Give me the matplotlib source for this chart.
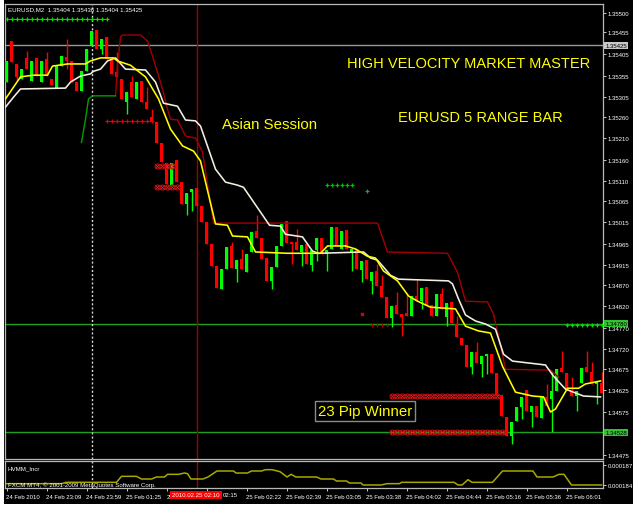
import matplotlib
matplotlib.use("Agg")
import matplotlib.pyplot as plt
from matplotlib.patches import Rectangle
import numpy as np

plt.rcParams['font.family'] = ['Liberation Sans', 'DejaVu Sans']

# ---------------- data (prices in points, 1 point = 0.00001) ----------------
opens = [135340, 135435, 135382, 135347, 135396, 135342, 135396, 135340, 135393, 135347,
         135326, 135377, 135398, 135389, 135340, 135319, 135365, 135423, 135461, 135417,
         135444, 135393, 135363, 135347, 135294, 135340, 135301, 135342, 135294, 135259,
         135247, 135199, 135152, 135101, 135159, 135108, 135057, 135085, 135094, 135052,
         135015, 134964, 134913, 134860, 134906, 134960, 134906, 134930, 134899, 134946,
         134994, 134978, 134932, 134879, 134911, 134960, 135018, 134969, 134969, 134946,
         134964, 134916, 134950, 134978, 134941, 134953, 135004, 134953, 134997, 134946,
         134953, 134904, 134927, 134879, 134902, 134867, 134841, 134793, 134823, 134802,
         134804, 134797, 134844, 134832, 134865, 134823, 134797, 134848, 134795, 134830,
         134779, 134746, 134730, 134679, 134714, 134686, 134705, 134709, 134665, 134614,
         134563, 134519, 134554, 134586, 134626, 134575, 134589, 134561, 134610, 134605,
         134623, 134677, 134665, 134623, 134612, 134642, 134679, 134667, 134640, 134642]
highs = [135389, 135435, 135382, 135370, 135412, 135389, 135396, 135389, 135410, 135347,
         135377, 135400, 135440, 135389, 135340, 135365, 135417, 135458, 135461, 135440,
         135444, 135393, 135410, 135347, 135317, 135354, 135340, 135342, 135328, 135277,
         135247, 135199, 135152, 135152, 135159, 135108, 135083, 135092, 135094, 135052,
         135015, 134964, 134913, 134906, 134957, 134969, 134927, 134953, 134941, 134992,
         135032, 134978, 134932, 134911, 134960, 135011, 135018, 134969, 134999, 134962,
         134964, 134950, 134978, 134978, 134950, 135004, 135004, 134994, 134997, 134953,
         134953, 134925, 134927, 134899, 134918, 134892, 134841, 134821, 134853, 134802,
         134851, 134844, 134881, 134862, 134865, 134823, 134848, 134862, 134828, 134830,
         134797, 134746, 134730, 134714, 134737, 134705, 134709, 134709, 134665, 134614,
         134563, 134552, 134586, 134610, 134626, 134589, 134589, 134610, 134640, 134670,
         134674, 134716, 134665, 134656, 134623, 134677, 134716, 134691, 134644, 134667]
lows = [135340, 135386, 135342, 135347, 135370, 135342, 135354, 135340, 135354, 135333,
        135326, 135377, 135370, 135340, 135319, 135319, 135365, 135423, 135417, 135405,
        135393, 135359, 135352, 135301, 135266, 135305, 135301, 135294, 135277, 135250,
        135199, 135154, 135103, 135101, 135108, 135057, 135032, 135041, 135052, 135015,
        134964, 134913, 134862, 134860, 134906, 134909, 134876, 134906, 134899, 134946,
        134978, 134930, 134879, 134860, 134911, 134960, 134967, 134918, 134950, 134913,
        134918, 134902, 134925, 134941, 134902, 134953, 134960, 134953, 134953, 134902,
        134906, 134876, 134883, 134848, 134867, 134841, 134793, 134772, 134802, 134751,
        134797, 134797, 134832, 134814, 134821, 134797, 134797, 134814, 134774, 134781,
        134749, 134730, 134679, 134663, 134688, 134656, 134663, 134665, 134614, 134565,
        134519, 134501, 134554, 134558, 134577, 134540, 134563, 134561, 134589, 134528,
        134623, 134667, 134626, 134612, 134577, 134642, 134667, 134640, 134593, 134619]
closes = [135389, 135386, 135352, 135370, 135370, 135389, 135354, 135389, 135354, 135333,
          135377, 135400, 135389, 135340, 135319, 135365, 135417, 135458, 135417, 135440,
          135393, 135359, 135352, 135301, 135317, 135305, 135340, 135294, 135277, 135250,
          135199, 135154, 135103, 135152, 135108, 135057, 135083, 135092, 135052, 135015,
          134964, 134913, 134862, 134906, 134957, 134909, 134927, 134906, 134941, 134992,
          134978, 134930, 134879, 134911, 134960, 135011, 134967, 134964, 134950, 134962,
          134918, 134950, 134978, 134941, 134950, 135004, 134960, 134994, 134953, 134953,
          134906, 134925, 134883, 134899, 134867, 134841, 134793, 134821, 134802, 134795,
          134797, 134844, 134832, 134862, 134821, 134797, 134848, 134814, 134828, 134781,
          134749, 134730, 134679, 134714, 134688, 134705, 134709, 134665, 134614, 134565,
          134519, 134552, 134586, 134610, 134577, 134589, 134563, 134610, 134589, 134623,
          134674, 134667, 134626, 134612, 134623, 134677, 134667, 134640, 134644, 134619]

# overlay lines: (bar index, price points)
yellow_line = [(-0.2, 135301), (2.8, 135352), (5.4, 135356), (8.2, 135356), (9.2, 135377),
               (12.2, 135382), (15.8, 135382), (16.8, 135389), (18.8, 135396), (21.4, 135396),
               (22.2, 135389), (24.8, 135379), (27.8, 135352), (30.4, 135301), (32.8, 135231),
               (35.2, 135192), (37.4, 135180), (38.8, 135157), (41.8, 135011), (44.2, 135008),
               (45.2, 134983), (48.2, 134981), (49.8, 134946), (56.2, 134943), (62.8, 134943),
               (64.2, 134960), (67.8, 134960), (69.8, 134953), (72.2, 134936), (73.8, 134932),
               (75.4, 134902), (78.2, 134879), (80.4, 134844), (82.2, 134832), (84.8, 134818),
               (89.8, 134814), (91.8, 134774), (94.4, 134763), (96.8, 134758), (99.2, 134681),
               (101.8, 134621), (105.2, 134612), (107.4, 134610), (108.8, 134575), (109.8, 134582),
               (112.2, 134630), (114.4, 134630), (115.8, 134640), (118.8, 134647)]
white_line = [(-0.2, 135282), (1.4, 135305), (2.8, 135324), (11.8, 135326), (12.8, 135340),
              (14.8, 135354), (16.8, 135359), (17.4, 135365), (18.8, 135370), (20.2, 135389),
              (21.8, 135396), (23.8, 135370), (27.8, 135368), (29.8, 135340), (31.4, 135291),
              (34.2, 135284), (35.8, 135252), (37.8, 135250), (38.8, 135238), (41.8, 135138),
              (43.8, 135108), (46.2, 135101), (47.4, 135096), (50.0, 135052), (52.6, 135008),
              (54.8, 135006), (55.8, 134987), (59.2, 134981), (61.2, 134948), (62.4, 134943),
              (71.4, 134946), (72.8, 134932), (74.2, 134927), (75.4, 134911), (76.8, 134892),
              (78.4, 134883), (88.4, 134879), (89.2, 134872), (90.4, 134837), (91.8, 134800),
              (93.8, 134786), (95.8, 134779), (97.8, 134767), (99.4, 134709), (101.2, 134693),
              (107.8, 134684), (109.4, 134658), (111.8, 134628), (115.4, 134612), (118.8, 134610)]
red_line = [(21.8, 135308), (22.2, 135377), (22.8, 135444), (23.2, 135449), (26.8, 135449),
            (28.2, 135435), (29.4, 135393), (31.2, 135324), (32.2, 135277), (32.8, 135254),
            (34.2, 135252), (35.8, 135215), (37.8, 135210), (39.2, 135178), (41.4, 135013),
            (74.2, 135013), (76.2, 134946), (88.2, 134943), (90.2, 134899), (91.8, 134832),
            (96.2, 134830), (97.4, 134802), (98.4, 134751), (99.8, 134674), (108.8, 134672),
            (110.4, 134656)]
green_line = [(15.0, 135200), (15.8, 135254), (16.4, 135301), (17.2, 135308), (21.8, 135308)]

# signal markers
green_plus_top = (list(range(0, 21)), 135486)
red_plus_row = (list(range(20, 30)), 135250)
red_circ_a = (list(range(30, 34)), 135145)
red_circ_b = (list(range(30, 35)), 135097)
green_plus_mid = (list(range(64, 70)), 135101)
green_plus_single = ([72], 135087)
red_dot = ([71], 134802)
red_small_row = (list(range(73, 77)), 134777)
red_circ_c = (list(range(77, 99)), 134612)
red_circ_d = (list(range(77, 100)), 134528)
green_plus_right = (list(range(112, 120)), 134777)

# horizontal level lines
grey_level = 1.35425
green_levels = [1.34780, 1.34528]

# indicator HVMM_Incr: (bar index, value)
hvmm = [(0, 0.0001842), (11, 0.0001842), (12, 0.0001844), (22, 0.0001844), (23, 0.0001853),
        (26, 0.0001853), (27, 0.0001849), (29, 0.0001849), (30, 0.0001852), (31.6, 0.0001852),
        (32.2, 0.0001856), (34.4, 0.0001856), (35.6, 0.0001858), (36.2, 0.0001857),
        (36.9, 0.0001849), (39.3, 0.0001849), (40.3, 0.0001852), (42.1, 0.0001861),
        (45.4, 0.0001861), (45.9, 0.0001858), (48.2, 0.0001858), (49.0, 0.0001861),
        (51.0, 0.0001861), (51.8, 0.0001863), (53.1, 0.0001863), (54.7, 0.0001860),
        (56.1, 0.0001852), (56.9, 0.0001856), (57.9, 0.0001852), (62.0, 0.0001852),
        (62.9, 0.0001849), (65.4, 0.0001849), (66.0, 0.0001846), (68.0, 0.0001846),
        (68.6, 0.0001843), (70.9, 0.0001843), (71.3, 0.0001840), (74.9, 0.0001840),
        (76.1, 0.0001842), (78.6, 0.0001842), (79.0, 0.0001844), (89.5, 0.0001844),
        (90.3, 0.0001840), (91.1, 0.0001840), (92.3, 0.0001848), (93.1, 0.0001844),
        (97.2, 0.0001844), (99.2, 0.0001861), (105.3, 0.0001861), (106.1, 0.0001852),
        (109.3, 0.0001852), (110.5, 0.0001856), (111.5, 0.0001856), (113.0, 0.0001840),
        (119.0, 0.0001840)]

price_ticks = [1.35500, 1.35455, 1.35405, 1.35355, 1.35305, 1.35260, 1.35210, 1.35160,
               1.35110, 1.35065, 1.35015, 1.34965, 1.34915, 1.34870, 1.34820, 1.34770,
               1.34720, 1.34675, 1.34625, 1.34575, 1.34475]
ind_ticks = [0.000187, 0.000184]
# tick labels; the two under the red cursor box are only partly visible ("25" ... "02:15")
time_tick_bars = [0, 8, 16, 24, 32, 40, 48, 56, 64, 72, 80, 88, 96, 104, 112]
time_tick_labels = ["24 Feb 2010", "24 Feb 23:09", "24 Feb 23:59", "25 Feb 01:25",
                    "25", "", "25 Feb 02:22", "25 Feb 02:39",
                    "25 Feb 03:05", "25 Feb 03:38", "25 Feb 04:02", "25 Feb 04:44",
                    "25 Feb 05:16", "25 Feb 05:36", "25 Feb 06:01"]
partial_label_text = "02:15"
cursor_label = "2010.02.25 02:10"
dotted_bar = 17
red_vbar = 38

# ---------------- figure ----------------
W, H = 633, 510
fig = plt.figure(figsize=(W / 100, H / 100), dpi=100, facecolor='white')
fig.patches.append(Rectangle((4 / W, 5 / H), 1, 1, transform=fig.transFigure,
                             facecolor='black', edgecolor='none', zorder=-10))

ax = fig.add_axes([5 / W, 50 / H, 598 / W, 455 / H])
axi = fig.add_axes([5 / W, 21 / H, 598 / W, 27 / H])
for a in (ax, axi):
    a.set_facecolor('black')
    for s in a.spines.values():
        s.set_color('#b8b8b8')
        s.set_linewidth(0.9)
    a.set_xlim(-0.3, 119.3)

P = 1e-5
o = np.array(opens) * P
h = np.array(highs) * P
l = np.array(lows) * P
c = np.array(closes) * P
x = np.arange(len(o))
up = c >= o
cols = np.where(up, '#00ff00', '#ff0000')

ax.vlines(x, l, h, colors=cols, linewidth=1, zorder=2)
ax.bar(x, np.maximum(np.abs(c - o), 0.000012), bottom=np.minimum(o, c), width=0.64,
       color=cols, linewidth=0, zorder=3)

# level lines
ax.axhline(grey_level, color='#9a9a9a', lw=1, zorder=1)
for lv in green_levels:
    ax.axhline(lv, color='#1fa01f', lw=1, zorder=1)
for a in (ax, axi):
    a.axvline(dotted_bar, color='#d8d8d8', lw=1, ls=(0, (1.5, 1.5)), zorder=1)
    a.axvline(red_vbar, color='#a00000', lw=1, zorder=1)


def draw_line(pts, color, lw):
    xs = [p[0] for p in pts]
    ys = [p[1] * P for p in pts]
    ax.plot(xs, ys, color=color, lw=lw, zorder=4, solid_joinstyle='round')


draw_line(red_line, '#a40000', 1.0)
draw_line(green_line, '#00a000', 1.0)
draw_line(white_line, '#f4efe0', 1.15)
draw_line(yellow_line, '#ffff00', 1.15)


def plus_row(spec, color, line=True):
    xs, p = spec
    ys = [p * P] * len(xs)
    ax.plot(xs, ys, color=color, lw=0.6 if line else 0, marker='+', ms=3.2, mew=0.9, zorder=5)


def circ_row(spec):
    xs, p = spec
    ys = [p * P] * len(xs)
    ax.plot(xs, ys, ls='none', marker='o', ms=3.6, mfc='none', mec='#c80000', mew=0.8, zorder=5)
    ax.plot(xs, ys, ls='none', marker='x', ms=2.2, mec='#d03030', mew=0.6, zorder=5)


plus_row(green_plus_top, '#00e000')
plus_row(red_plus_row, '#e00000')
plus_row(green_plus_mid, '#00c000', line=False)
plus_row(green_plus_single, '#00c000', line=False)
plus_row(red_small_row, '#a00000', line=False)
plus_row(green_plus_right, '#00e000', line=False)
ax.plot(red_dot[0], [red_dot[1] * P], ls='none', marker='s', ms=2, color='#e00000', zorder=5)
circ_row(red_circ_a)
circ_row(red_circ_b)
circ_row(red_circ_c)
circ_row(red_circ_d)

ax.set_ylim(1.34466, 1.35521)
ax.yaxis.tick_right()
ax.set_yticks(price_ticks)
ax.set_yticklabels([f"{v:.5f}" for v in price_ticks])
ax.tick_params(axis='y', colors='#c8c8c8', labelcolor='white', labelsize=4.3,
               length=2, width=0.7, pad=1.5)
ax.set_xticks([])

# highlighted price labels
ax.text(1.004, grey_level, f"{grey_level:.5f}", transform=ax.get_yaxis_transform(),
        fontsize=4.3, color='black', va='center', ha='left',
        bbox=dict(boxstyle='square,pad=0.15', facecolor='#c8c8c8', edgecolor='none'))
for lv in green_levels:
    ax.text(1.004, lv, f"{lv:.5f}", transform=ax.get_yaxis_transform(),
            fontsize=4.3, color='black', va='center', ha='left',
            bbox=dict(boxstyle='square,pad=0.15', facecolor='#33c033', edgecolor='none'))

# indicator panel
axi.plot([p[0] for p in hvmm], [p[1] for p in hvmm], color='#a8a800', lw=1.1, zorder=4)
axi.set_ylim(0.00018355, 0.0001876)
axi.yaxis.tick_right()
axi.set_yticks(ind_ticks)
axi.set_yticklabels([f"{v:.6f}" for v in ind_ticks])
axi.tick_params(axis='y', colors='#c8c8c8', labelcolor='white', labelsize=4.3,
                length=2, width=0.7, pad=1.5)
axi.set_xticks(time_tick_bars)
axi.set_xticklabels(time_tick_labels)
axi.tick_params(axis='x', colors='#c8c8c8', labelcolor='white', labelsize=4.3,
                length=2, width=0.7, pad=2.5)
for t in axi.get_xticklabels():
    t.set_horizontalalignment('left')


# texts
def ftext(px, py, s, **kw):
    fig.text(px / W, 1 - py / H, s, **kw)


ftext(8, 10, "EURUSD,M2  1.35404 1.35436 1.35404 1.35425", fontsize=4.4, color='white',
      va='center', ha='left')
ftext(469, 64, "HIGH VELOCITY MARKET MASTER", fontsize=10.5, color='#ffff00',
      va='center', ha='center')
ftext(480, 118, "EURUSD 5 RANGE BAR", fontsize=10.5, color='#ffff00', va='center', ha='center')
ftext(270, 125, "Asian Session", fontsize=10.8, color='#ffff00', va='center', ha='center')
ftext(365, 412, "23 Pip Winner", fontsize=10.8, color='#ffff00', va='center', ha='center',
      bbox=dict(boxstyle='square,pad=0.18', facecolor='black', edgecolor='#8a8a8a', lw=1))
ftext(8, 469, "HVMM_Incr", fontsize=4.4, color='white', va='center', ha='left')
ftext(8, 485, "FXCM MT4, \u00a9 2001-2009 MetaQuotes Software Corp.", fontsize=4.4,
      color='white', va='center', ha='left', zorder=1)
ftext(196, 496, cursor_label, fontsize=4.4, color='white', va='center', ha='center',
      bbox=dict(boxstyle='square,pad=0.3', facecolor='#ff0000', edgecolor='none'), zorder=10)
# visible tail of the tick label hidden under the cursor box
ftext(223, 496, partial_label_text, fontsize=4.3, color='white', va='center', ha='left')

fig.savefig("out.png", dpi=100, facecolor=fig.get_facecolor())
